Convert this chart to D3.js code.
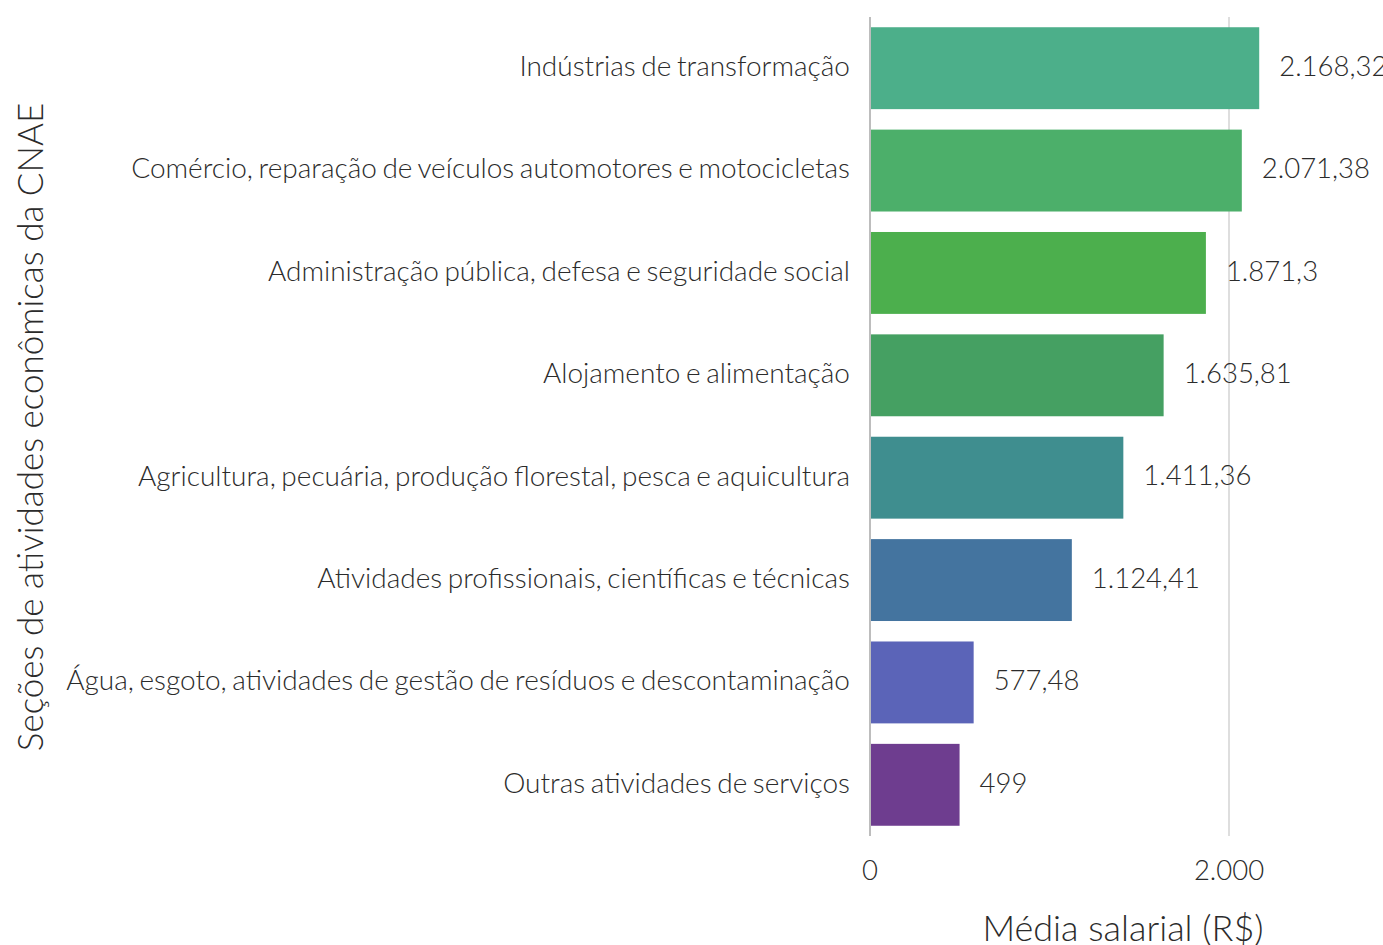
<!DOCTYPE html>
<html><head><meta charset="utf-8">
<script src="https://cdn.jsdelivr.net/npm/d3@7"></script>
<style>
html,body{margin:0;padding:0;background:#fff;}
text{font-family:Lato,"Open Sans",sans-serif;font-weight:300;fill:#2b2b2b;}
</style></head>
<body>
<svg id="chart" width="1383" height="945"></svg>
<script>
const categories = [
  "Indústrias de transformação",
  "Comércio, reparação de veículos automotores e motocicletas",
  "Administração pública, defesa e seguridade social",
  "Alojamento e alimentação",
  "Agricultura, pecuária, produção florestal, pesca e aquicultura",
  "Atividades profissionais, científicas e técnicas",
  "Água, esgoto, atividades de gestão de resíduos e descontaminação",
  "Outras atividades de serviços"
];
const values = [2168.32, 2071.38, 1871.3, 1635.81, 1411.36, 1124.41, 577.48, 499];
const valueLabels = ["2.168,32", "2.071,38", "1.871,3", "1.635,81", "1.411,36", "1.124,41", "577,48", "499"];
const colors = ["#4caf8a", "#4caf6a", "#4caf4d", "#45a062", "#3f8e8f", "#44749f", "#5b64b8", "#6e3d8f"];
const xTicks = [0, 2000];
const xTickLabels = ["0", "2.000"];
const xTitle = "Média salarial (R$)";
const yTitle = "Seções de atividades econômicas da CNAE";

(function () {
const svg = d3.select("#chart");
const pLeft = 870, pTop = 17, pBottom = 836;
const x = d3.scaleLinear().domain([0, 2000]).range([pLeft, 1229]);
const y = d3.scaleBand().domain(categories).range([pTop, pBottom]).paddingInner(0.2).paddingOuter(0.1);

svg.append("g").selectAll("line").data(xTicks).join("line")
  .attr("x1", d => x(d)).attr("x2", d => x(d))
  .attr("y1", pTop).attr("y2", pBottom)
  .attr("stroke", d => d === 0 ? "#bdbdbd" : "#dedede")
  .attr("stroke-width", 2);

svg.append("g").selectAll("rect").data(values).join("rect")
  .attr("x", x(0) + 1)
  .attr("y", (d, i) => y(categories[i]))
  .attr("width", d => x(d) - x(0) - 1)
  .attr("height", y.bandwidth())
  .attr("fill", (d, i) => colors[i]);

svg.append("g").selectAll("text").data(values).join("text")
  .attr("x", d => x(d) + 20)
  .attr("y", (d, i) => y(categories[i]) + y.bandwidth() / 2)
  .attr("dy", "0.28em")
  .attr("font-size", 27.5)
  .text((d, i) => valueLabels[i]);

svg.append("g").selectAll("text").data(categories).join("text")
  .attr("x", pLeft - 20)
  .attr("y", d => y(d) + y.bandwidth() / 2)
  .attr("dy", "0.28em")
  .attr("text-anchor", "end")
  .attr("font-size", 28)
  .attr("word-spacing", -2)
  .text(d => d);

svg.append("g").selectAll("text").data(xTicks).join("text")
  .attr("x", d => x(d))
  .attr("y", 870)
  .attr("dy", "0.35em")
  .attr("text-anchor", "middle")
  .attr("font-size", 27.5)
  .text((d, i) => xTickLabels[i]);

svg.append("text")
  .attr("x", 1123).attr("y", 928)
  .attr("dy", "0.35em")
  .attr("text-anchor", "middle")
  .attr("font-size", 36)
  .text(xTitle);

svg.append("text")
  .attr("transform", "translate(31,427) rotate(-90)")
  .attr("dy", "0.35em")
  .attr("text-anchor", "middle")
  .attr("font-size", 35)
  .text(yTitle);
})();
</script>
</body></html>
